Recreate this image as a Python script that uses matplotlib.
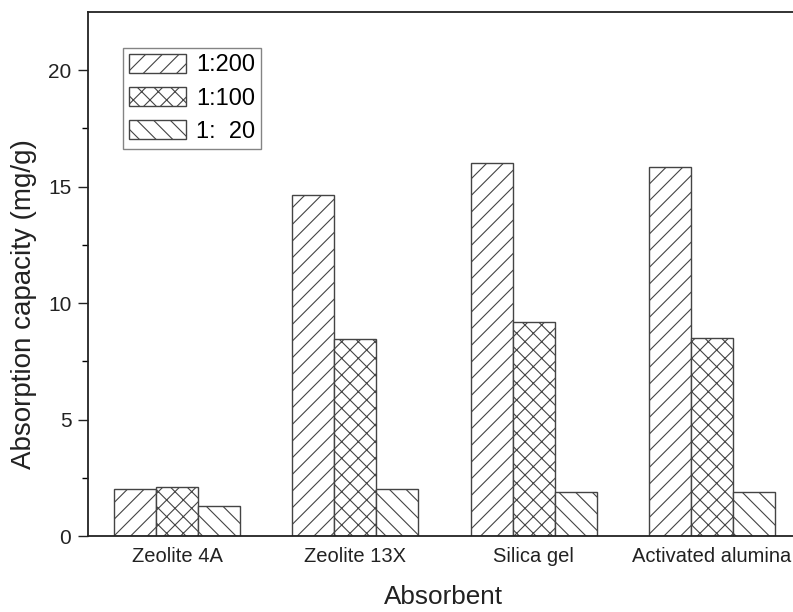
import matplotlib
matplotlib.use("Agg")
import matplotlib.pyplot as plt
import numpy as np

categories = ["Zeolite 4A", "Zeolite 13X", "Silica gel", "Activated alumina"]
series_labels = ["1:200", "1:100", "1:  20"]
v_200 = [2.0, 14.65, 16.0, 15.85]
v_100 = [2.1, 8.45, 9.2, 8.5]
v_20 = [1.3, 2.0, 1.9, 1.9]
series_values = [v_200, v_100, v_20]
hatches = ["//", "xx", "\\\\"]

plt.rcParams["font.family"] = ["Liberation Sans", "DejaVu Sans"]
plt.rcParams["hatch.color"] = "#888888"
plt.rcParams["hatch.linewidth"] = 0.8

fig = plt.figure(figsize=(7.93, 6.12), dpi=100)
ax = fig.add_axes([88/793, 76/612, 713/793, 524/612])

x = np.arange(len(categories))
w = 0.236
for i, (vals, lab, h) in enumerate(zip(series_values, series_labels, hatches)):
    ax.bar(x + (i - 1) * w, vals, width=w, facecolor="white", edgecolor="#444444",
           linewidth=1.0, hatch=h, label=lab)

ax.set_xlim(-0.5, 3.5)
ax.set_ylim(0, 22.5)
ax.set_yticks([0, 5, 10, 15, 20])
ax.set_yticks(np.arange(2.5, 22.5, 5), minor=True)
ax.set_xticks(x)
ax.set_xticklabels(categories)
ax.tick_params(axis="y", which="major", direction="out", length=7, width=1.0,
               labelsize=15, colors="#222222", pad=5)
ax.tick_params(axis="y", which="minor", direction="out", length=4, width=1.0)
ax.tick_params(axis="x", which="major", length=0, labelsize=14.5, pad=8,
               colors="#222222")
for s in ax.spines.values():
    s.set_linewidth(1.3)
    s.set_color("#222222")

ax.set_ylabel("Absorption capacity (mg/g)", fontsize=20, color="#222222")
ax.yaxis.set_label_coords((37 - 88) / 713, (536 - 304) / 524)
ax.set_xlabel("Absorbent", fontsize=18.8, color="#222222")
ax.xaxis.set_label_coords((443 - 88) / 713, -(585 - 536) / 524)

leg = ax.legend(loc="upper left", bbox_to_anchor=(123/793, 1 - 48/612),
                bbox_transform=fig.transFigure, fontsize=17, frameon=True,
                fancybox=False, edgecolor="#666666", handlelength=2.4,
                handleheight=0.85, handletextpad=0.45, labelspacing=0.45,
                borderpad=0.25, borderaxespad=0)
leg.get_frame().set_linewidth(1.0)

fig.savefig("out.png", dpi=100)
